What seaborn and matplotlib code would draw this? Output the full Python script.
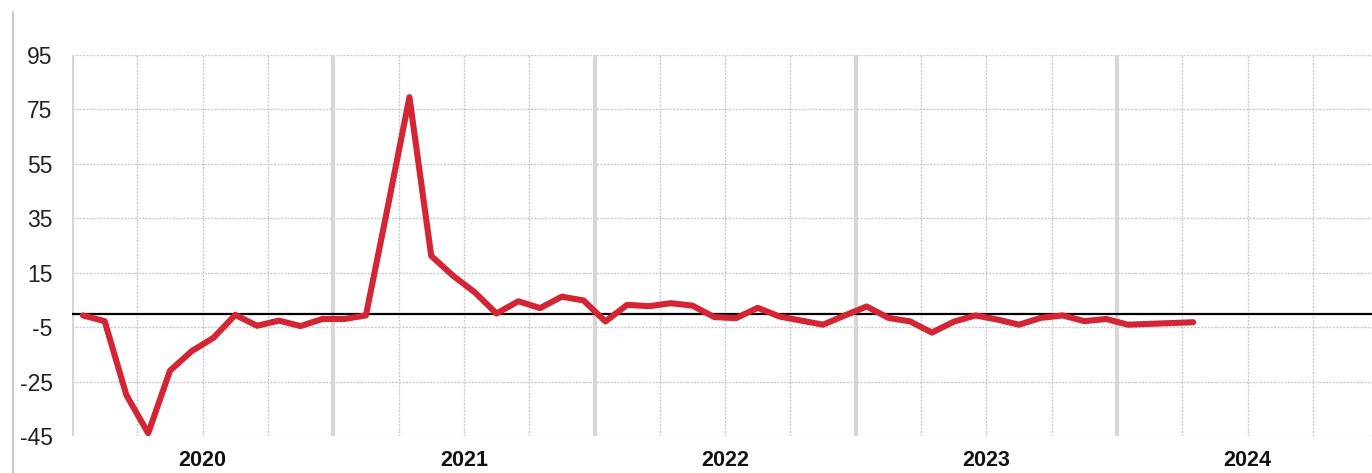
import numpy as np
import pandas as pd
import matplotlib
matplotlib.use("Agg")
import matplotlib.pyplot as plt
import seaborn as sns
from matplotlib import font_manager
from matplotlib.lines import Line2D

# ---- data (monthly, Jan 2020 .. Apr 2024) ----
years = ["2020", "2021", "2022", "2023", "2024"]
values_2020 = [-0.7, -2.8, -30, -44, -21, -13.8, -8.9, -0.5, -4.5, -2.6, -4.6, -2.0]
values_2021 = [-2.0, -0.7, 39, 79.5, 21.2, 13.9, 7.8, 0.0, 4.5, 2.0, 6.2, 4.8]
values_2022 = [-2.9, 3.2, 2.7, 3.8, 2.9, -1.3, -1.7, 2.1, -1.1, -2.6, -4.1, -0.7]
values_2023 = [2.6, -1.6, -2.9, -7.0, -3.0, -0.7, -2.2, -4.1, -1.6, -0.7, -2.8, -2.0]
values_2024 = [-4.1, -3.8, -3.5, -3.2]
y_ticks = [-45, -25, -5, 15, 35, 55, 75, 95]

values = values_2020 + values_2021 + values_2022 + values_2023 + values_2024
df = pd.DataFrame({"month": np.arange(len(values)) + 0.5, "value": values})

sns.set_style("white")
avail = {f.name for f in font_manager.fontManager.ttflist}
narrow = "Liberation Sans Narrow" if "Liberation Sans Narrow" in avail else "Liberation Sans"
plt.rcParams["font.family"] = [narrow, "DejaVu Sans"]

fig = plt.figure(figsize=(13.72, 4.73), dpi=100)
ax = fig.add_axes([72 / 1372, 1 - 436 / 473, 1 - 72 / 1372, (436 - 55) / 473])

n_years = len(years)
x_max = (1372 - 72) / (261.25 / 12)
ax.set_xlim(0, x_max)
ax.set_ylim(-45, 95)

# grid lines
for yt in y_ticks:
    ax.axhline(yt, color="#c9c9c9", lw=1.0, ls=(0, (1.5, 1.0)), zorder=1)
for q in range(0, int(x_max) + 1, 3):
    if q % 12 == 0:
        ax.axvline(q, color="#d6d6d6", lw=3.0, zorder=1)
    else:
        ax.axvline(q, color="#c9c9c9", lw=1.0, ls=(0, (1.5, 1.0)), zorder=1)

ax.axhline(0, color="black", lw=1.6, zorder=2)

sns.lineplot(data=df, x="month", y="value", ax=ax, color="#d42535", lw=4.4,
             zorder=3, solid_joinstyle="round", solid_capstyle="round")

for s in ax.spines.values():
    s.set_visible(False)

ax.set_yticks(y_ticks)
ax.set_yticklabels([str(v) for v in y_ticks], fontsize=16.5, color="#222222")
ax.tick_params(axis="y", length=0, pad=14)
ax.set_xticks([12 * i + 6 for i in range(n_years)])
ax.set_xticklabels(years, fontsize=15.5, fontweight="bold", color="#111111")
ax.tick_params(axis="x", length=0, pad=10)
ax.set_xlabel("")
ax.set_ylabel("")

fig.add_artist(Line2D([13 / 1372, 13 / 1372], [0, 1 - 12 / 473],
                      transform=fig.transFigure, color="#bdbdbd", lw=1.2))

fig.savefig("out.png", dpi=100)
